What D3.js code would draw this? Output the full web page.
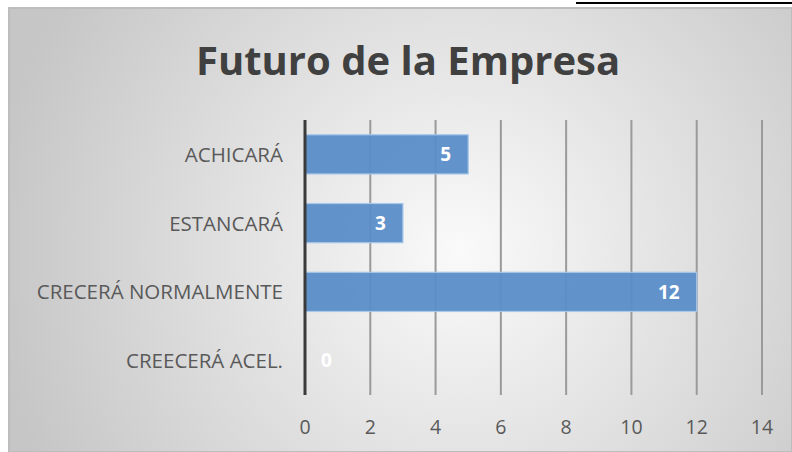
<!DOCTYPE html>
<html>
<head>
<meta charset="utf-8">
<script src="https://d3js.org/d3.v7.min.js"></script>
<style>
  body { margin: 0; background: #fff; }
  svg { display: block; }
</style>
</head>
<body>
<svg width="792" height="452"></svg>
<script>
// datos del grafico
var categories = ["ACHICARÁ", "ESTANCARÁ", "CRECERÁ NORMALMENTE", "CREECERÁ ACEL."];
var values = [5, 3, 12, 0];
var ticks = [0, 2, 4, 6, 8, 10, 12, 14];

var svg = d3.select("svg");

// fondo con degradado radial
var defs = svg.append("defs");
var grad = defs.append("radialGradient").attr("id", "bg")
  .attr("gradientUnits", "userSpaceOnUse")
  .attr("cx", 460).attr("cy", 250).attr("r", 470);
grad.append("stop").attr("offset", "0%").attr("stop-color", "#fafafa");
grad.append("stop").attr("offset", "100%").attr("stop-color", "#c6c6c6");

svg.append("rect").attr("x", 9).attr("y", 8).attr("width", 783).attr("height", 444)
  .attr("fill", "url(#bg)").attr("stroke", "#bdbdbd").attr("stroke-width", 2);

// linea negra arriba a la derecha
svg.append("line").attr("x1", 576).attr("x2", 792).attr("y1", 3).attr("y2", 3)
  .attr("stroke", "#000").attr("stroke-width", 2);

svg.append("text").attr("x", 408).attr("y", 75).attr("text-anchor", "middle")
  .attr("font-family", "'Open Sans', sans-serif").attr("font-weight", 700)
  .attr("font-size", 40).attr("fill", "#404040").text("Futuro de la Empresa");

var margin = { top: 120, left: 305 },
  width = 762 - 305,
  height = 395 - 120;

var x = d3.scaleLinear().domain([0, 14]).range([0, width]);
var y = d3.scaleBand().domain(categories).range([0, height]).paddingInner(0.43).paddingOuter(0.215);

var g = svg.append("g").attr("transform", "translate(" + margin.left + "," + margin.top + ")");

// lineas de la grilla
g.selectAll(".grid").data(ticks.slice(1)).enter().append("line")
  .attr("class", "grid")
  .attr("x1", function(d) { return x(d); }).attr("x2", function(d) { return x(d); })
  .attr("y1", 0).attr("y2", height)
  .attr("stroke", "#9a9a9a").attr("stroke-width", 2);

// barras
g.selectAll(".bar").data(values).enter().append("rect")
  .attr("class", "bar")
  .attr("x", x(0))
  .attr("y", function(d, i) { return y(categories[i]); })
  .attr("width", function(d) { return x(d) - x(0); })
  .attr("height", y.bandwidth())
  .attr("fill", "#5b8dc8").attr("fill-opacity", 0.95)
  .attr("stroke", "#a8c8ea").attr("stroke-width", 1.2)
  .style("display", function(d) { return d > 0 ? null : "none"; });

// etiquetas de valor
g.selectAll(".val").data(values).enter().append("text")
  .attr("class", "val")
  .attr("x", function(d) { return d > 0 ? x(d) - 17 : x(0) + 16; })
  .attr("y", function(d, i) { return y(categories[i]) + y.bandwidth() / 2; })
  .attr("dy", "0.36em")
  .attr("text-anchor", function(d) { return d > 0 ? "end" : "start"; })
  .attr("font-family", "'Open Sans', sans-serif").attr("font-weight", 700)
  .attr("font-size", 19).attr("fill", "#fff")
  .text(function(d) { return d; });

// eje vertical
g.append("line").attr("x1", 0).attr("x2", 0).attr("y1", 0).attr("y2", height)
  .attr("stroke", "#3a3a3a").attr("stroke-width", 3);

// etiquetas de categoria
g.selectAll(".cat").data(categories).enter().append("text")
  .attr("class", "cat")
  .attr("x", -22)
  .attr("y", function(d) { return y(d) + y.bandwidth() / 2; })
  .attr("dy", "0.36em").attr("text-anchor", "end")
  .attr("font-family", "'Open Sans', sans-serif").attr("font-size", 20.5)
  .attr("fill", "#595959").text(function(d) { return d; });

// etiquetas del eje x
g.selectAll(".tick").data(ticks).enter().append("text")
  .attr("class", "tick")
  .attr("x", function(d) { return x(d); })
  .attr("y", height + 39)
  .attr("text-anchor", "middle")
  .attr("font-family", "'Open Sans', sans-serif").attr("font-size", 19.5)
  .attr("fill", "#595959").text(function(d) { return d; });
</script>
</body>
</html>
